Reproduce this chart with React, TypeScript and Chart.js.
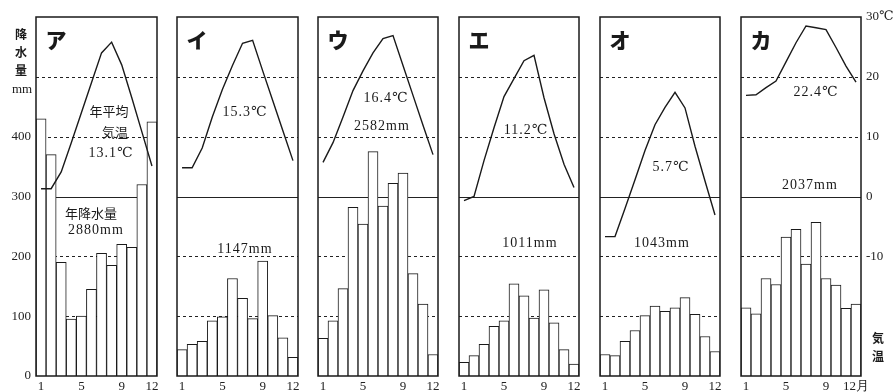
import React, { useEffect, useRef } from "react";
import { Chart, registerables } from "chart.js";
Chart.register(...registerables);

// ---------- data ----------
const months = ["1", "2", "3", "4", "5", "6", "7", "8", "9", "10", "11", "12"];
const shownMonthIdx = [0, 4, 8, 11];
const panelNames = ["ア", "イ", "ウ", "エ", "オ", "カ"];

const precipA = [430, 370, 190, 95, 100, 145, 205, 185, 220, 215, 320, 425];
const tempA = [1.3, 1.3, 4.1, 9, 14, 19, 24, 25.8, 22, 16.5, 10.8, 5.1];
const precipI = [44, 53, 58, 92, 99, 163, 130, 96, 192, 101, 64, 31];
const tempI = [4.8, 4.8, 8.1, 13.3, 17.9, 21.9, 25.6, 26.1, 21, 16, 11, 6];
const precipU = [63, 92, 146, 282, 254, 375, 284, 322, 339, 171, 120, 36];
const tempU = [5.7, 9, 13.3, 17.7, 21, 24, 26.4, 26.9, 21.9, 16.9, 11.9, 7];
const precipE = [23, 34, 53, 83, 92, 154, 134, 97, 144, 89, 44, 20];
const tempE = [-0.7, 0, 6, 11.5, 16.7, 19.7, 22.7, 23.6, 16.5, 10.5, 5.4, 1.5];
const precipO = [36, 34, 58, 76, 101, 117, 108, 114, 131, 103, 66, 41];
const tempO = [-6.7, -6.7, -2, 2.8, 7.7, 12, 14.9, 17.4, 14.8, 8.4, 2.6, -3.1];
const precipKa = [114, 104, 163, 153, 232, 245, 187, 257, 163, 152, 113, 120];
const tempKa = [16.9, 17, 18.2, 19.3, 22.5, 25.7, 28.5, 28.2, 27.9, 24.9, 21.8, 19.1];

const precipSeries = [precipA, precipI, precipU, precipE, precipO, precipKa];
const tempSeries = [tempA, tempI, tempU, tempE, tempO, tempKa];

const annualTemps = ["13.1℃", "15.3℃", "16.4℃", "11.2℃", "5.7℃", "22.4℃"];
const annualPrecips = ["2880mm", "1147mm", "2582mm", "1011mm", "1043mm", "2037mm"];

const precipTicks = [0, 100, 200, 300, 400];
const tempTicks = [30, 20, 10, 0, -10];
const dottedLevels = [100, 200, 400, 500];
const solidLevel = 300;

// ---------- layout ----------
const W = 896;
const H = 392;
const PLOT_TOP = 17;
const XAXIS_H = 16;
const panelLeft = [36, 177, 318, 459, 600, 741];
const panelRight = [157, 298, 438, 579, 720, 861];
const SERIF = "'Liberation Serif', 'DejaVu Serif', serif";
const CJK = "'Noto Sans CJK JP', 'Noto Sans CJK SC', sans-serif";
const INK = "#1a1a1a";

const gridPlugin = {
  id: "panelGrid",
  beforeDatasetsDraw(chart: any) {
    const { ctx, chartArea } = chart;
    const y = chart.scales.y;
    ctx.save();
    ctx.strokeStyle = "#222";
    ctx.lineWidth = 1;
    ctx.setLineDash([3, 3]);
    for (const v of dottedLevels) {
      const py = Math.round(y.getPixelForValue(v)) + 0.5;
      ctx.beginPath();
      ctx.moveTo(chartArea.left, py);
      ctx.lineTo(chartArea.right, py);
      ctx.stroke();
    }
    ctx.setLineDash([]);
    const pz = Math.round(y.getPixelForValue(solidLevel)) + 0.5;
    ctx.beginPath();
    ctx.moveTo(chartArea.left, pz);
    ctx.lineTo(chartArea.right, pz);
    ctx.stroke();
    ctx.restore();
  },
};

const framePlugin = {
  id: "panelFrame",
  afterDatasetsDraw(chart: any) {
    const { ctx, chartArea } = chart;
    ctx.save();
    ctx.strokeStyle = INK;
    ctx.lineWidth = 1.5;
    ctx.strokeRect(chartArea.left, chartArea.top, chartArea.right - chartArea.left, chartArea.bottom - chartArea.top);
    ctx.restore();
  },
};

function Panel({ idx }: { idx: number }) {
  const ref = useRef<HTMLCanvasElement | null>(null);
  const first = idx === 0;
  const last = idx === panelNames.length - 1;
  const padL = first ? panelLeft[0] : 10;
  const padR = last ? W - panelRight[idx] : 10;
  const left = panelLeft[idx] - padL;
  const width = panelRight[idx] - panelLeft[idx] + padL + padR;

  useEffect(() => {
    if (!ref.current) return;
    const tickFont = { family: SERIF, size: 13 };
    const chart = new Chart(ref.current, {
      type: "bar",
      data: {
        labels: months,
        datasets: [
          {
            type: "line",
            data: tempSeries[idx],
            yAxisID: "yT",
            borderColor: INK,
            borderWidth: 1.4,
            pointRadius: 0,
            tension: 0,
            fill: false,
            order: 0,
          } as any,
          {
            type: "bar",
            data: precipSeries[idx],
            yAxisID: "y",
            backgroundColor: "#ffffff",
            borderColor: INK,
            borderWidth: 1,
            barPercentage: 1,
            categoryPercentage: 1,
            order: 1,
          } as any,
        ],
      },
      options: {
        animation: false,
        responsive: false,
        layout: {
          padding: { top: PLOT_TOP, bottom: 0, left: first ? 0 : padL, right: last ? 0 : padR },
        },
        plugins: { legend: { display: false }, tooltip: { enabled: false } },
        scales: {
          x: {
            type: "category",
            offset: true,
            grid: { display: false, drawTicks: false },
            border: { display: false },
            ticks: {
              autoSkip: false,
              maxRotation: 0,
              padding: 3,
              font: tickFont,
              color: "#222",
              callback: (_v: any, i: number) =>
                shownMonthIdx.includes(i) ? (last && i === 11 ? months[i] + "月" : months[i]) : "",
            },
            afterFit: (s: any) => {
              s.height = XAXIS_H;
            },
          },
          y: {
            position: "left",
            min: 0,
            max: 600,
            display: first,
            grid: { display: false, drawTicks: false },
            border: { display: false },
            ticks: {
              stepSize: 100,
              padding: 5,
              font: tickFont,
              color: "#222",
              callback: (v: any) => (precipTicks.includes(v) ? String(v) : ""),
            },
            afterFit: (s: any) => {
              if (first) s.width = padL;
            },
          },
          yT: {
            position: "right",
            min: -30,
            max: 30,
            display: last,
            grid: { display: false, drawTicks: false },
            border: { display: false },
            ticks: {
              stepSize: 10,
              padding: 5,
              font: tickFont,
              color: "#222",
              callback: (v: any) => (tempTicks.includes(v) ? (v === 30 ? "30℃" : String(v)) : ""),
            },
            afterFit: (s: any) => {
              if (last) s.width = padR;
            },
          },
        },
      } as any,
      plugins: [gridPlugin, framePlugin],
    });
    return () => chart.destroy();
  }, [idx]);

  return (
    <div style={{ position: "absolute", left, top: 0, width, height: H }}>
      <canvas ref={ref} width={width} height={H} style={{ width, height: H, display: "block" }} />
    </div>
  );
}

function Txt({ x, y, children, size = 14, font = SERIF, weight = 400, spacing = 1 }: any) {
  return (
    <div
      style={{
        position: "absolute",
        left: x,
        top: y,
        transform: "translate(-50%, -50%)",
        whiteSpace: "nowrap",
        fontFamily: font,
        fontSize: size,
        fontWeight: weight,
        letterSpacing: spacing,
        color: "#1a1a1a",
        lineHeight: 1,
      }}
    >
      {children}
    </div>
  );
}

const tempPos = [
  [111, 153],
  [245, 112],
  [386, 98],
  [526, 130],
  [671, 167],
  [816, 92],
];
const precipPos = [
  [96, 230],
  [245, 249],
  [382, 126],
  [530, 243],
  [662, 243],
  [810, 185],
];

export default function App() {
  return (
    <div style={{ position: "absolute", left: 0, top: 0, width: W, height: H, background: "#fff", overflow: "hidden" }}>
      {panelNames.map((_, i) => (
        <Panel key={i} idx={i} />
      ))}
      {panelNames.map((n, i) => (
        <Txt key={"n" + i} x={panelLeft[i] + 20} y={39} size={21} font={CJK} weight={900} spacing={0}>
          {n}
        </Txt>
      ))}
      {annualTemps.map((t, i) => (
        <Txt key={"t" + i} x={tempPos[i][0]} y={tempPos[i][1]}>
          {t}
        </Txt>
      ))}
      {annualPrecips.map((t, i) => (
        <Txt key={"p" + i} x={precipPos[i][0]} y={precipPos[i][1]}>
          {t}
        </Txt>
      ))}
      <Txt x={109} y={110} size={13} font={CJK} spacing={0}>年平均</Txt>
      <Txt x={115} y={131} size={13} font={CJK} spacing={0}>気温</Txt>
      <Txt x={91} y={212} size={13} font={CJK} spacing={0}>年降水量</Txt>
      <Txt x={21} y={34} size={12} font={CJK} weight={700} spacing={0}>降</Txt>
      <Txt x={21} y={52} size={12} font={CJK} weight={700} spacing={0}>水</Txt>
      <Txt x={21} y={70} size={12} font={CJK} weight={700} spacing={0}>量</Txt>
      <Txt x={22} y={88} size={13} spacing={0}>mm</Txt>
      <Txt x={878} y={338} size={12} font={CJK} weight={700} spacing={0}>気</Txt>
      <Txt x={878} y={356} size={12} font={CJK} weight={700} spacing={0}>温</Txt>
    </div>
  );
}
